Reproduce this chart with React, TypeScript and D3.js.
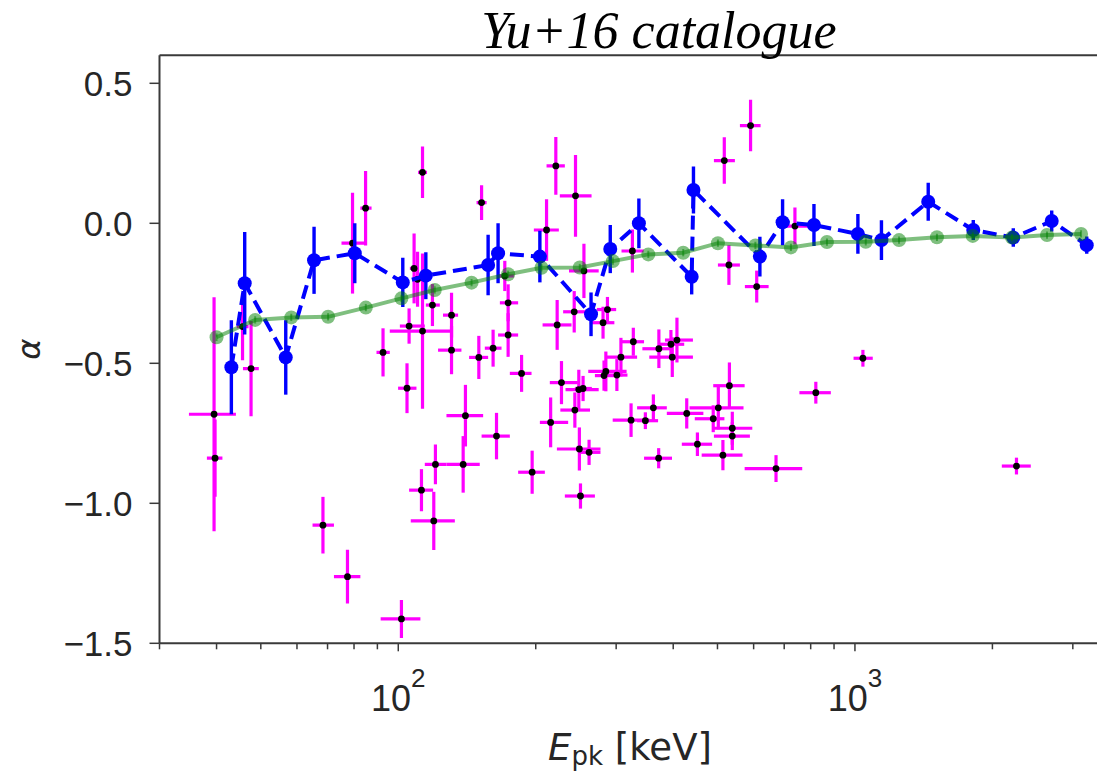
import React from "react";
import * as d3 from "d3";

// ---- Magenta: individual bursts (Epk [keV], Epk lower/upper bounds, alpha, alpha error)
const magEpk = [39.5, 39.7, 45.6, 47.6, 79.4, 84.8, 92.6, 104.5, 105.6, 113.0, 108.3, 110.2, 113.0, 118.8, 130.8, 130.8, 150.1, 161.3, 152.2, 171.1, 174.0, 174.0, 186.2, 211.2, 221.3, 244.4, 255.0, 325.6, 529.7, 609.4, 517.5, 590.8, 738.9, 222.8, 242.8, 280.8, 287.1, 327.1, 307.3, 372.1, 395.4, 407.6, 398.1, 284.8, 282.2, 301.1, 227.7, 248.5, 253.9, 243.6, 215.6, 249.2, 261.7, 250.6, 323.4, 347.6, 361.9, 371.7, 428.2, 451.9, 489.4, 502.1, 531.0, 538.8, 538.8, 513.9, 671.7, 821.0, 1041, 2258, 140.3, 164.1, 120.6, 138.7, 196.4, 68.4, 77.4, 101.6, 112.4, 119.6];
const magEpkLo = [34.8, 38.1, 44.3, 45.7, 75.1, 82.6, 89.6, 99.9, 100.8, 95.8, 106.0, 107.6, 110.5, 114.9, 125.3, 122.2, 142.9, 154.7, 148.4, 165.2, 166.9, 165.4, 175.5, 198.1, 211.2, 225.8, 236.5, 308.2, 501.1, 574.1, 491.1, 559.9, 708.6, 207.0, 229.6, 262.7, 272.2, 308.0, 284.5, 342.4, 370.6, 383.7, 354.5, 260.6, 269.5, 283.4, 214.7, 232.4, 243.6, 226.4, 204.2, 222.5, 251.1, 231.6, 294.8, 333.4, 333.4, 345.3, 387.3, 417.7, 445.9, 434.3, 489.4, 489.4, 491.1, 461.7, 573.4, 755.7, 993, 2097, 127.5, 152.2, 114.3, 127.5, 183.0, 64.9, 72.3, 91.5, 105.6, 106.5];
const magEpkHi = [44.1, 41.2, 47.0, 49.5, 85.2, 87.4, 95.8, 109.6, 114.3, 130.8, 110.9, 113.2, 115.6, 123.3, 135.2, 137.5, 157.3, 168.3, 156.1, 179.1, 183.0, 183.0, 195.8, 224.7, 231.6, 265.0, 274.7, 344.6, 559.9, 647.1, 545.9, 621.4, 797.0, 239.5, 258.2, 297.3, 300.0, 345.3, 333.4, 394.2, 422.8, 441.8, 441.8, 316.2, 298.1, 317.6, 247.3, 274.7, 265.4, 262.9, 235.5, 277.2, 277.2, 269.5, 354.5, 370.6, 387.3, 397.6, 465.7, 486.7, 517.8, 570.2, 573.4, 596.0, 588.8, 567.3, 766.6, 885.6, 1094, 2427, 153.4, 175.5, 127.5, 150.8, 209.4, 72.3, 82.6, 111.8, 119.2, 133.0];
const magAlpha = [-0.682, -0.839, -0.369, -0.519, -0.071, 0.054, -0.461, -0.589, -0.367, -0.385, -0.161, -0.2, 0.182, -0.292, -0.328, -0.453, -0.479, -0.446, 0.074, -0.188, -0.284, -0.399, -0.536, -0.024, 0.205, 0.098, -0.17, -0.099, -0.149, -0.226, 0.224, 0.349, -0.01, -0.363, -0.316, -0.355, -0.308, -0.423, -0.478, -0.448, -0.432, -0.417, -0.478, -0.529, -0.544, -0.542, -0.569, -0.594, -0.59, -0.667, -0.711, -0.806, -0.818, -0.974, -0.703, -0.705, -0.659, -0.839, -0.679, -0.789, -0.698, -0.659, -0.58, -0.732, -0.76, -0.828, -0.876, -0.605, -0.482, -0.867, -0.687, -0.76, -0.861, -0.861, -0.889, -1.078, -1.262, -1.413, -0.953, -1.063];
const magAlphaErr = [0.418, 0.138, 0.12, 0.17, 0.18, 0.133, 0.086, 0.089, 0.063, 0.277, 0.125, 0.098, 0.092, 0.075, 0.08, 0.086, 0.077, 0.066, 0.062, 0.054, 0.066, 0.078, 0.066, 0.11, 0.103, 0.146, 0.097, 0.077, 0.071, 0.057, 0.083, 0.092, 0.066, 0.089, 0.074, 0.057, 0.045, 0.05, 0.069, 0.069, 0.051, 0.08, 0.071, 0.071, 0.054, 0.057, 0.077, 0.071, 0.045, 0.063, 0.089, 0.077, 0.045, 0.045, 0.06, 0.03, 0.048, 0.036, 0.054, 0.042, 0.048, 0.077, 0.083, 0.059, 0.05, 0.054, 0.048, 0.039, 0.03, 0.03, 0.11, 0.083, 0.071, 0.101, 0.077, 0.101, 0.096, 0.068, 0.075, 0.104];

// ---- Blue: binned values (dashed line)
const blueEpk = [43.1, 46.1, 56.7, 65.4, 80.3, 102.3, 114.9, 157.3, 165.4, 204.2, 264.3, 291.2, 336.4, 439, 443, 619.2, 694.3, 813.3, 1015, 1143, 1447, 1816, 2222, 2697, 3218];
const blueAlpha = [-0.514, -0.214, -0.479, -0.132, -0.107, -0.211, -0.187, -0.149, -0.107, -0.119, -0.325, -0.092, 0.0, -0.191, 0.119, -0.119, 0.004, -0.006, -0.038, -0.06, 0.077, -0.024, -0.051, 0.008, -0.078];
const blueAlphaErr = [0.168, 0.183, 0.133, 0.12, 0.107, 0.088, 0.084, 0.108, 0.107, 0.092, 0.078, 0.086, 0.089, 0.063, 0.084, 0.071, 0.082, 0.075, 0.071, 0.071, 0.068, 0.036, 0.033, 0.0375, 0.031];

// ---- Green: running trend (solid translucent line)
const greenEpk = [40.0, 48.6, 58.3, 70.2, 84.9, 101.6, 120.2, 144.7, 174.0, 205.9, 249.7, 295.1, 352.8, 420.7, 501.1, 605.3, 724.1, 868.4, 1056, 1249, 1512, 1811, 2207, 2634, 3127];
const greenAlpha = [-0.407, -0.345, -0.336, -0.334, -0.301, -0.268, -0.238, -0.212, -0.182, -0.159, -0.158, -0.135, -0.111, -0.105, -0.071, -0.079, -0.086, -0.067, -0.066, -0.06, -0.05, -0.045, -0.051, -0.042, -0.038];
const greenAlphaErr = [0.013, 0.013, 0.013, 0.013, 0.013, 0.013, 0.013, 0.013, 0.013, 0.013, 0.013, 0.013, 0.013, 0.013, 0.013, 0.013, 0.013, 0.013, 0.013, 0.013, 0.013, 0.013, 0.013, 0.013, 0.013];

// ---- Axes
const yTicks = [0.5, 0.0, -0.5, -1.0, -1.5];
const yTickLabels = ["0.5", "0.0", "\u22120.5", "\u22121.0", "\u22121.5"];
const xMajorTicks = [100, 1000];
const xMajorExp = ["2", "3"];
const xMinorTicks = [30, 40, 50, 60, 70, 80, 90, 200, 300, 400, 500, 600, 700, 800, 900, 2000, 3000];
const xDomain = [30, 3500];
const yDomain = [-1.5, 0.6];

const W = 1097;
const H = 774;
const PL = 159.5;
const PR = 1103.4;
const PT = 55.3;
const PB = 643.3;

const MAGENTA = "#ff00ff";
const BLUE = "#0000ff";
const GREEN = "#008000";
const AXIS = "#3a3a3a";
const SANS = "'Liberation Sans', Arial, Helvetica, sans-serif";
const MATH = "'DejaVu Sans', sans-serif";

export default function App() {
  const x = d3.scaleLog().domain(xDomain).range([PL, PR]);
  const y = d3.scaleLinear().domain(yDomain).range([PB, PT]);

  const blueLine = d3
    .line<number>()
    .x((_, i) => x(blueEpk[i]))
    .y((d) => y(d))(blueAlpha) as string;
  const greenLine = d3
    .line<number>()
    .x((_, i) => x(greenEpk[i]))
    .y((d) => y(d))(greenAlpha) as string;

  return (
    <svg
      width={W}
      height={H}
      viewBox={`0 0 ${W} ${H}`}
      style={{ position: "absolute", left: 0, top: 0, background: "#fff" }}
    >
      <rect x={0} y={0} width={W} height={H} fill="#fff" />
      <defs>
        <clipPath id="plotclip">
          <rect x={PL} y={PT} width={PR - PL} height={PB - PT} />
        </clipPath>
      </defs>

      <g clipPath="url(#plotclip)">
        {/* magenta bursts */}
        <g stroke={MAGENTA} strokeWidth={3.2} fill="none">
          {magEpk.map((e, i) => (
            <g key={"m" + i}>
              <line x1={x(magEpkLo[i])} x2={x(magEpkHi[i])} y1={y(magAlpha[i])} y2={y(magAlpha[i])} />
              <line
                x1={x(e)}
                x2={x(e)}
                y1={y(magAlpha[i] + magAlphaErr[i])}
                y2={y(magAlpha[i] - magAlphaErr[i])}
              />
            </g>
          ))}
        </g>
        <g fill="#000">
          {magEpk.map((e, i) => (
            <circle key={"md" + i} cx={x(e)} cy={y(magAlpha[i])} r={3.4} />
          ))}
        </g>

        {/* blue binned */}
        <g stroke={BLUE} strokeWidth={3.4}>
          {blueEpk.map((e, i) => (
            <line
              key={"be" + i}
              x1={x(e)}
              x2={x(e)}
              y1={y(blueAlpha[i] + blueAlphaErr[i])}
              y2={y(blueAlpha[i] - blueAlphaErr[i])}
            />
          ))}
        </g>
        <path d={blueLine} fill="none" stroke={BLUE} strokeWidth={4} strokeDasharray="14,7" />
        <g fill={BLUE}>
          {blueEpk.map((e, i) => (
            <circle key={"bc" + i} cx={x(e)} cy={y(blueAlpha[i])} r={7} />
          ))}
        </g>

        {/* green trend */}
        <path d={greenLine} fill="none" stroke={GREEN} strokeOpacity={0.5} strokeWidth={4} />
        <g stroke={GREEN} strokeOpacity={0.5} strokeWidth={2}>
          {greenEpk.map((e, i) => (
            <line
              key={"ge" + i}
              x1={x(e)}
              x2={x(e)}
              y1={y(greenAlpha[i] + greenAlphaErr[i])}
              y2={y(greenAlpha[i] - greenAlphaErr[i])}
            />
          ))}
        </g>
        <g fill={GREEN} fillOpacity={0.5}>
          {greenEpk.map((e, i) => (
            <circle key={"gc" + i} cx={x(e)} cy={y(greenAlpha[i])} r={7} />
          ))}
        </g>
      </g>

      {/* spines */}
      <g stroke={AXIS} strokeWidth={2} fill="none">
        <line x1={PL} x2={PL} y1={PT} y2={PB} />
        <line x1={PL} x2={PR} y1={PT} y2={PT} />
        <line x1={PL} x2={PR} y1={PB} y2={PB} />
        <line x1={PR} x2={PR} y1={PT} y2={PB} />
      </g>

      {/* y ticks */}
      <g stroke={AXIS} strokeWidth={1.5}>
        {yTicks.map((t) => (
          <line key={"yt" + t} x1={PL - 10} x2={PL} y1={y(t)} y2={y(t)} />
        ))}
      </g>
      <g fontFamily={SANS} fontSize={35} fill="#262626" textAnchor="end">
        {yTicks.map((t, i) => (
          <text key={"yl" + t} x={PL - 27} y={y(t)} dy="0.36em">
            {yTickLabels[i]}
          </text>
        ))}
      </g>

      {/* x ticks */}
      <g stroke={AXIS} strokeWidth={1.5}>
        {xMajorTicks.map((t) => (
          <line key={"xM" + t} x1={x(t)} x2={x(t)} y1={PB} y2={PB + 8} />
        ))}
        {xMinorTicks.map((t) => (
          <line key={"xm" + t} x1={x(t)} x2={x(t)} y1={PB} y2={PB + 6} />
        ))}
      </g>
      <g fontFamily={SANS} fill="#262626" textAnchor="middle">
        {xMajorTicks.map((t, i) => (
          <text key={"xl" + t} x={x(t)} y={711}>
            <tspan fontSize={36}>10</tspan>
            <tspan fontSize={26} dy={-24}>
              {xMajorExp[i]}
            </tspan>
          </text>
        ))}
      </g>

      {/* axis labels */}
      <text x={630} y={760} fontFamily={MATH} fontSize={37} fill="#262626" textAnchor="middle">
        <tspan fontStyle="italic">E</tspan>
        <tspan fontSize={26} dy={5}>
          pk
        </tspan>
        <tspan dy={-5}> [keV]</tspan>
      </text>
      <text
        transform={`translate(40, ${(PT + PB) / 2}) rotate(-90)`}
        fontFamily={MATH}
        fontStyle="italic"
        fontSize={32}
        fill="#262626"
        textAnchor="middle"
      >
        α
      </text>

      {/* title */}
      <text
        x={659}
        y={48}
        fontFamily="'Liberation Serif', 'Times New Roman', serif"
        fontStyle="italic"
        fontSize={52}
        fill="#000"
        textAnchor="middle"
      >
        Yu+16 catalogue
      </text>
    </svg>
  );
}
